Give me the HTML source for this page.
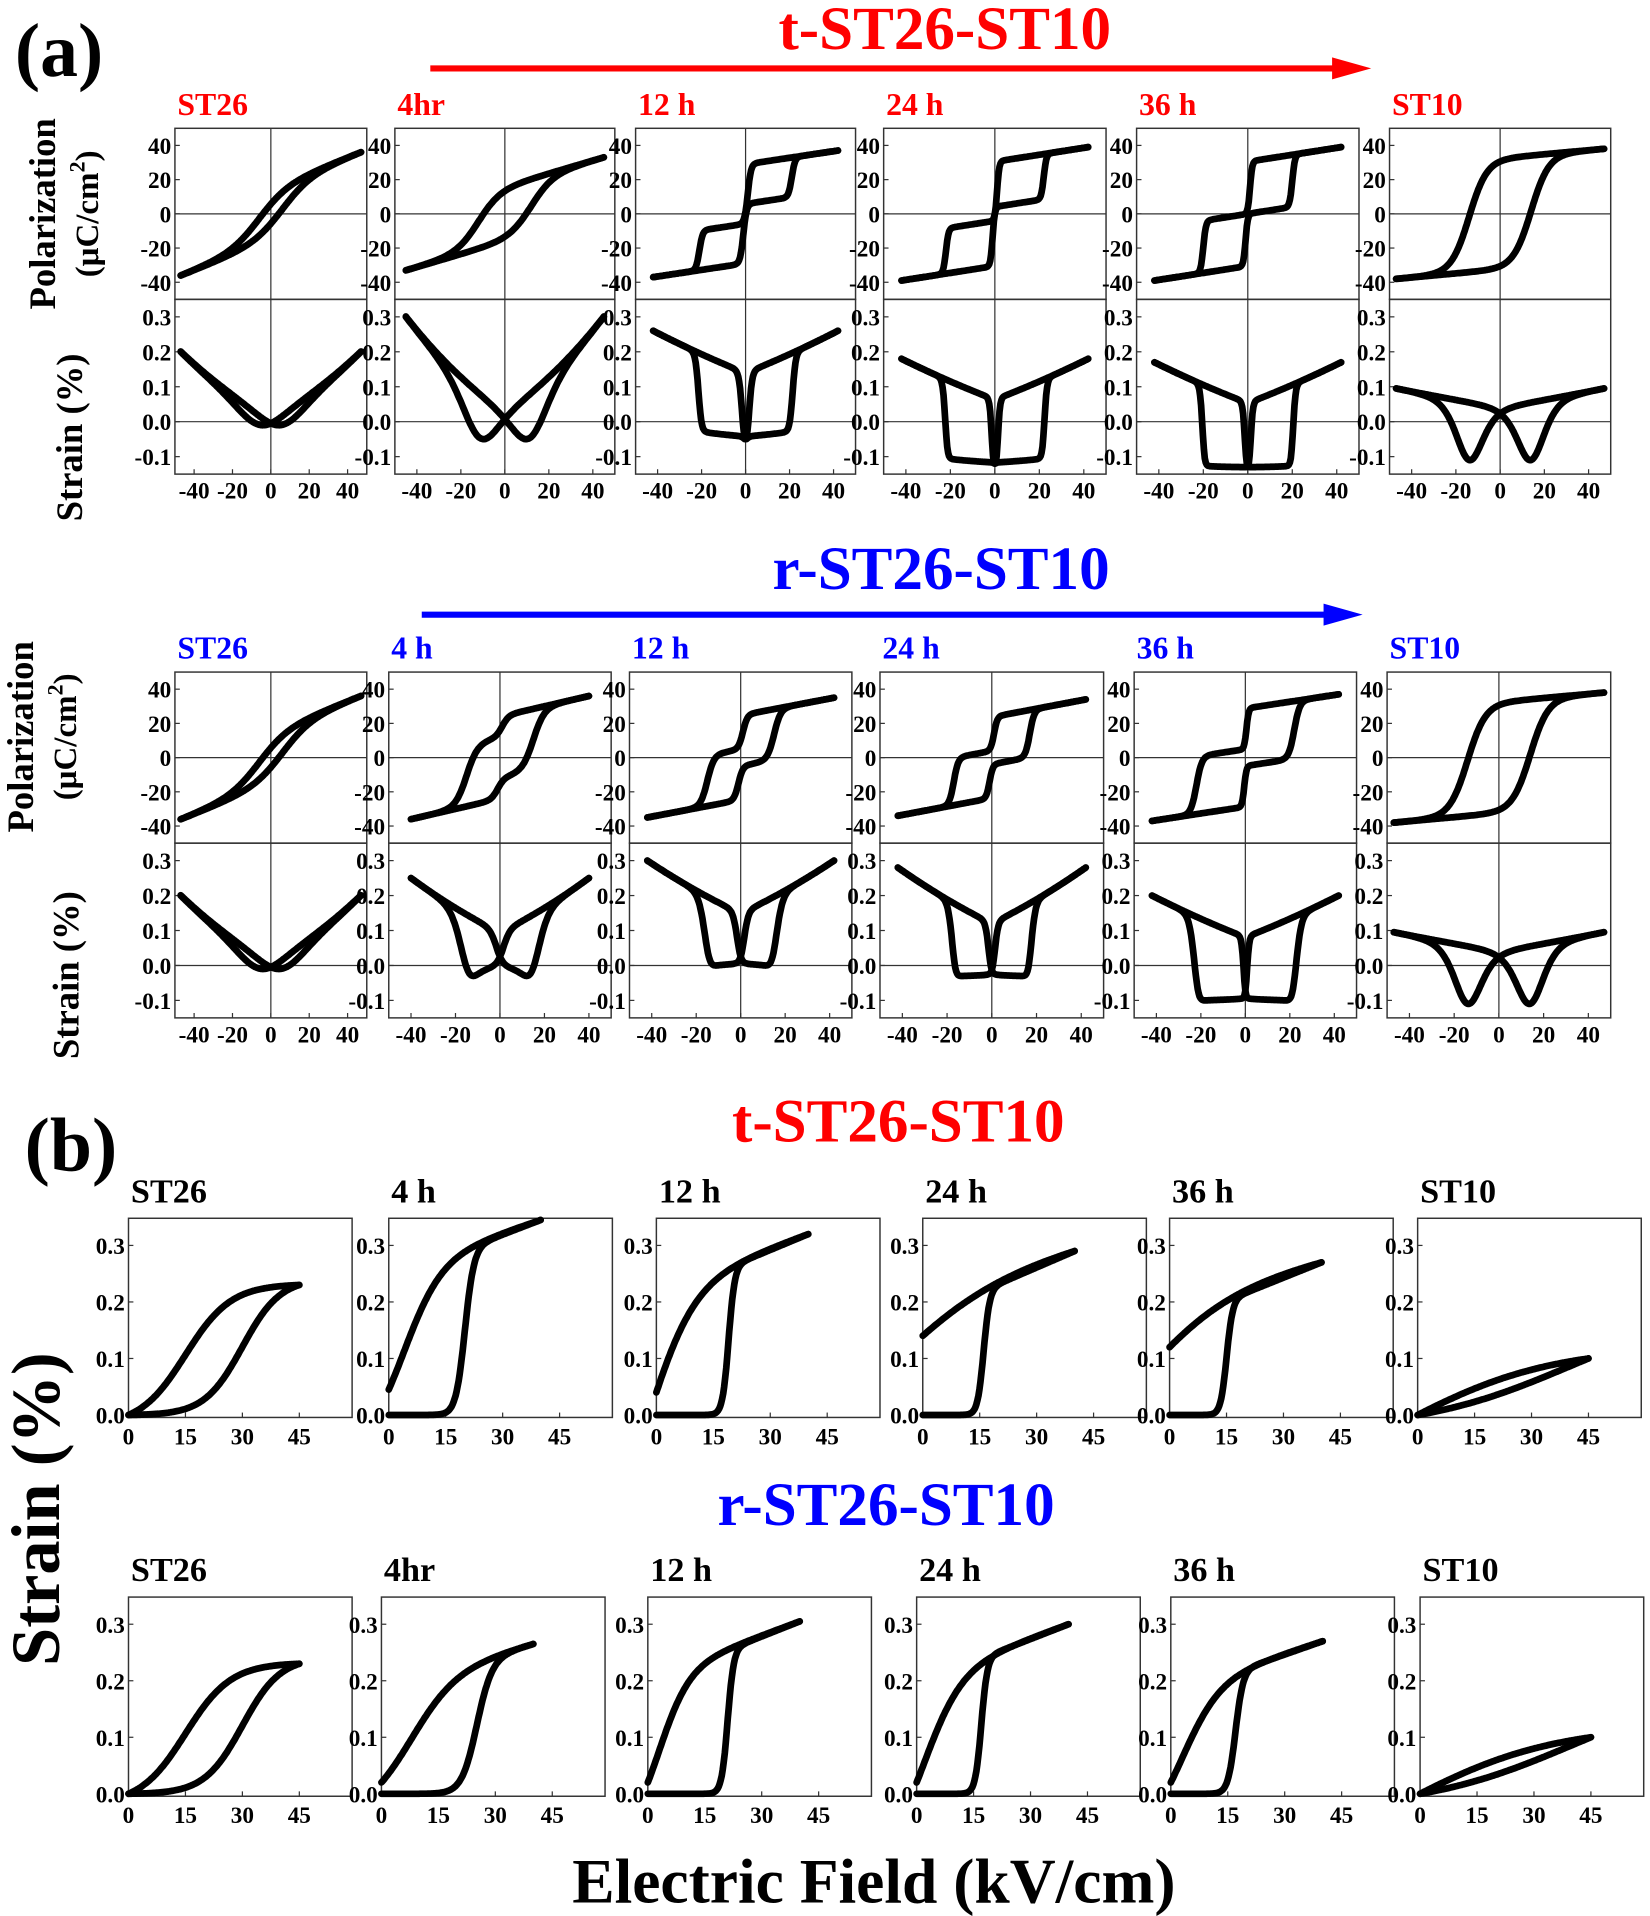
<!DOCTYPE html>
<html><head><meta charset="utf-8"><style>
html,body{margin:0;padding:0;background:#fff;}
svg{display:block;}
text{font-family:"Liberation Serif",serif;font-weight:bold;}
</style></head><body>
<svg id="s" xmlns="http://www.w3.org/2000/svg" width="1650" height="1916" viewBox="0 0 1350 1568">
<rect width="1350" height="1568" fill="#fff"/>
<text x="12" y="62" font-size="62">(a)</text>
<text x="773" y="40" font-size="50" fill="#f00" text-anchor="middle">t-ST26-ST10</text>
<line x1="352" y1="56" x2="1095" y2="56" stroke="#f00" stroke-width="5"/>
<polygon points="1090,47 1122,56 1090,65" fill="#f00"/>
<text x="770" y="482" font-size="50" fill="#00f" text-anchor="middle">r-ST26-ST10</text>
<line x1="345" y1="503" x2="1088" y2="503" stroke="#00f" stroke-width="5"/>
<polygon points="1083,494 1115,503 1083,512" fill="#00f"/>
<text x="20" y="958" font-size="62">(b)</text>
<text x="735" y="934" font-size="50" fill="#f00" text-anchor="middle">t-ST26-ST10</text>
<text x="725" y="1248" font-size="50" fill="#00f" text-anchor="middle">r-ST26-ST10</text>
<text x="715" y="1557" font-size="52" text-anchor="middle">Electric Field (kV/cm)</text>
<text transform="translate(48,1235) rotate(-90)" font-size="56" text-anchor="middle">Strain (%)</text>
<text transform="translate(45,175) rotate(-90)" font-size="30" text-anchor="middle">Polarization</text>
<text transform="translate(80,175) rotate(-90)" font-size="27" text-anchor="middle">(μC/cm<tspan dy="-11" font-size="18">2</tspan><tspan dy="11">)</tspan></text>
<text transform="translate(67,358) rotate(-90)" font-size="30" text-anchor="middle">Strain (%)</text>
<text transform="translate(27,603) rotate(-90)" font-size="30" text-anchor="middle">Polarization</text>
<text transform="translate(62,603) rotate(-90)" font-size="27" text-anchor="middle">(μC/cm<tspan dy="-11" font-size="18">2</tspan><tspan dy="11">)</tspan></text>
<text transform="translate(64,798) rotate(-90)" font-size="30" text-anchor="middle">Strain (%)</text>
<g id="g"></g>
</svg>
<script>
var out=[];
function T(x,y,s,fs,anc,col){out.push('<text x="'+x+'" y="'+y+'" font-size="'+fs+'" text-anchor="'+(anc||'start')+'"'+(col?' fill="'+col+'"':'')+'>'+s+'</text>');}
function R(x,y,w,h){out.push('<rect x="'+x+'" y="'+y+'" width="'+w+'" height="'+h+'" fill="none" stroke="#333" stroke-width="1.2"/>');}
function L(a,b,c,d,w){out.push('<line x1="'+a+'" y1="'+b+'" x2="'+c+'" y2="'+d+'" stroke="#333" stroke-width="'+(w||1)+'"/>');}
function P(pts){out.push('<polyline points="'+pts.map(function(p){return p[0].toFixed(1)+','+p[1].toFixed(1)}).join(' ')+'" fill="none" stroke="#000" stroke-width="5.5" stroke-linejoin="round" stroke-linecap="round"/>');}
function th(x){return Math.tanh(x);}
function pa(p,E){return p.a*E+p.b1*th((E+p.d)/p.w1)+p.b2*th((E-p.D)/p.w2);}
function panelA(x0,yT,w,p,lab,col){
 var cx=x0+w/2, hs=w/2/50;
 R(x0,yT,w,140); R(x0,yT+140,w,143);
 L(cx,yT,cx,yT+283); L(x0,yT+70,x0+w,yT+70);
 var yS=yT+140, s0=yS+0.35*286; L(x0,s0,x0+w,s0);
 [40,20,0,-20,-40].forEach(function(v){var y=yT+70-v*70/50;T(x0-3,y+7,v,19,'end');L(x0,y,x0+4,y);});
 [0.3,0.2,0.1,0.0,-0.1].forEach(function(v){var y=yS+(0.35-v)*286;T(x0-3,y+7,v.toFixed(1),19,'end');L(x0,y,x0+4,y);});
 [-40,-20,0,20,40].forEach(function(v){var x=cx+v*hs;T(x,yS+163,v,19,'middle');L(x,yS+143,x,yS+139);});
 T(x0+2,yT-11,lab,26,'start',col);
 var Em=p.Em, pm=pa(p,Em), k=p.Pm/pm, A=[],B=[],SA=[],SB=[];
 for(var i=0;i<=200;i++){var E=-Em+2*Em*i/200;var v=pa(p,E)*k;var u=-pa(p,-E)*k;
  A.push([cx+E*hs,yT+70-v*70/50]);B.push([cx+E*hs,yT+70-u*70/50]);
  var sa=p.Sn+(p.Sx-p.Sn)*Math.pow(v/p.Pm,2), sb=p.Sn+(p.Sx-p.Sn)*Math.pow(u/p.Pm,2);
  SA.push([cx+E*hs,yS+(0.35-sa)*286]);SB.push([cx+E*hs,yS+(0.35-sb)*286]);}
 P(A);P(B);P(SA);P(SB);
}
function sg(E,c,w){return 1/(1+Math.exp(-(E-c)/w));}
function N(E,c,w,Em){return (sg(E,c,w)-sg(0,c,w))/(sg(Em,c,w)-sg(0,c,w));}
function panelB(x0,yT,p,lab){
 var w=183,h=163,y0=yT+161,sc=46.6/15,sy=462.6,l=p.l||0;
 R(x0,yT,w,h);
 [0.3,0.2,0.1,0.0].forEach(function(v){var y=y0-v*sy;T(x0-3,y+7,v.toFixed(1),19,'end');L(x0,y,x0+4,y);});
 [0,15,30,45].forEach(function(v){var x=x0+v*sc;T(x,y0+24,v,19,'middle');L(x,yT+h,x,yT+h-4);});
 T(x0+2,yT-13,lab,28);
 var A=[],B=[],Em=p.Em;
 for(var i=0;i<=150;i++){var E=Em*i/150;
  var a=p.Sx*N(E,p.cu,p.wu,Em)*(1-l+l*E/Em), b=p.r+(p.Sx-p.r)*((1-l)*N(E,p.cd,p.wd,Em)+l*E/Em);
  A.push([x0+E*sc,Math.max(yT,y0-a*sy)]);B.push([x0+E*sc,Math.max(yT,y0-b*sy)]);}
 P(A);P(B);
}
var ST26={Em:47,Pm:36,a:0.45,b1:0,d:0,w1:1,b2:15,D:6,w2:15,Sx:0.2,Sn:-0.01};
var ST10={Em:47,Pm:38,a:0.12,b1:0,d:0,w1:1,b2:33,D:14,w2:8,Sx:0.095,Sn:-0.11};
var tc=[[143,157,ST26,'ST26'],[323,180,{Em:45,Pm:33,a:0.38,b1:0,d:0,w1:1,b2:16,D:12,w2:10,Sx:0.3,Sn:-0.05},'4hr'],
[520,180,{Em:42,Pm:37,a:0.2,b1:18,d:1,w1:1.5,b2:12,D:21,w2:1.5,Sx:0.26,Sn:-0.05},'12 h'],
[723,182,{Em:42,Pm:39,a:0.2,b1:17,d:1,w1:1,b2:13,D:22,w2:1.2,Sx:0.18,Sn:-0.12},'24 h'],
[930,182,{Em:42,Pm:39,a:0.2,b1:15,d:1,w1:1,b2:15,D:20,w2:1.2,Sx:0.17,Sn:-0.13},'36 h'],
[1137,181,ST10,'ST10']];
tc.forEach(function(c){panelA(c[0],105,c[1],c[2],c[3],'#f00');});
var rc=[[143,157,ST26,'ST26'],[318,182,{Em:40,Pm:36,a:0.3,b1:6,d:1,w1:3,b2:18,D:15,w2:5,Sx:0.25,Sn:-0.03},'4 h'],
[515,182,{Em:42,Pm:35,a:0.25,b1:10,d:1,w1:2,b2:15,D:15,w2:3,Sx:0.3,Sn:0.0},'12 h'],
[720,183,{Em:42,Pm:34,a:0.25,b1:10,d:1,w1:1.5,b2:14,D:17,w2:2,Sx:0.28,Sn:-0.03},'24 h'],
[928,182,{Em:42,Pm:37,a:0.2,b1:12,d:0.5,w1:1,b2:17,D:22,w2:2.5,Sx:0.2,Sn:-0.1},'36 h'],
[1135,183,ST10,'ST10']];
rc.forEach(function(c){panelA(c[0],550,c[1],c[2],c[3],'#00f');});
var B26={Em:45,Sx:0.23,cu:30,wu:5,r:0,cd:15,wd:6}, B10={Em:45,Sx:0.1,cu:40,wu:20,r:0,cd:-5,wd:20};
var tb=[[105,B26,'ST26'],[318,{Em:40,Sx:0.345,cu:20,wu:1.2,r:0.045,cd:4,wd:5,l:0.3},'4 h'],
[537,{Em:40,Sx:0.32,cu:19,wu:0.8,r:0.04,cd:-2,wd:6,l:0.35},'12 h'],
[755,{Em:40,Sx:0.29,cu:16,wu:0.8,r:0.14,cd:-10,wd:15,l:0.4},'24 h'],
[957,{Em:40,Sx:0.27,cu:15,wu:0.8,r:0.12,cd:-8,wd:12,l:0.4},'36 h'],
[1160,B10,'ST10']];
tb.forEach(function(c){panelB(c[0],997,c[1],c[2]);});
var rb=[[105,B26,'ST26'],[312,{Em:40,Sx:0.265,cu:25,wu:2,r:0.02,cd:8,wd:6,l:0.3},'4hr'],
[530,{Em:40,Sx:0.305,cu:21,wu:0.8,r:0.02,cd:3,wd:4,l:0.35},'12 h'],
[750,{Em:40,Sx:0.3,cu:17,wu:0.8,r:0.02,cd:2,wd:5,l:0.35},'24 h'],
[958,{Em:40,Sx:0.27,cu:17,wu:1,r:0.02,cd:3,wd:5,l:0.35},'36 h'],
[1162,B10,'ST10']];
rb.forEach(function(c){panelB(c[0],1307,c[1],c[2]);});
document.getElementById('g').innerHTML=out.join('');
</script>
</body></html>
